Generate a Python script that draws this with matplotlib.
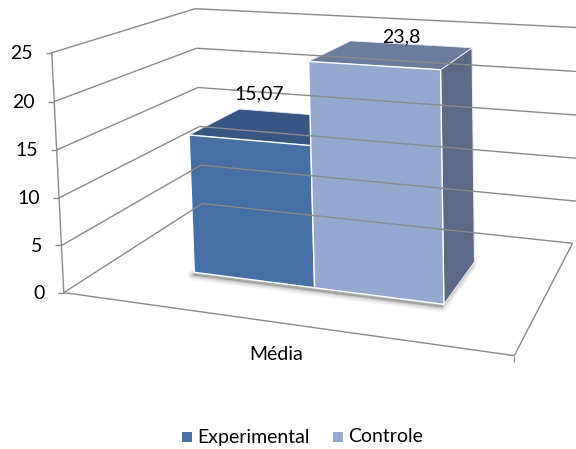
import numpy as np
import matplotlib
matplotlib.use('Agg')
import matplotlib.pyplot as plt
from matplotlib.patches import Polygon, Rectangle

plt.rcParams['font.family'] = ['Lato', 'DejaVu Sans']

# data
series = ['Experimental', 'Controle']
values = [15.07, 23.8]
value_labels = ['15,07', '23,8']
category = 'Média'
yticks = [0, 5, 10, 15, 20, 25]
zmax = 25

front_colors = ['#4470a5', '#94a8d0']
top_colors = ['#365582', '#6b7c9f']
side_colors = ['#2f4a70', '#5c6a86']

# box corners (x, depth, value) -> pixel, used to build the perspective camera
anchors = [
    ((0, 0, 0), (63, 291)),
    ((0, 0, 10), (59, 198)),
    ((0, 0, 25), (52, 54)),
    ((0, 1, 0), (203, 205)),
    ((0, 1, 15), (198, 87)),
    ((0, 1, 25), (195, 8)),
    ((1, 1, 0), (572, 243)),
    ((1, 0, 0), (515, 356)),
]

S = 500.0
rows = []
for (X, Y, Z), (u, v) in anchors:
    Zn = Z / zmax
    u, v = u / S, v / S
    rows.append([X, Y, Zn, 1, 0, 0, 0, 0, -u * X, -u * Y, -u * Zn, -u])
    rows.append([0, 0, 0, 0, X, Y, Zn, 1, -v * X, -v * Y, -v * Zn, -v])
_, _, vt = np.linalg.svd(np.array(rows, float))
P = vt[-1].reshape(3, 4)


def proj(x, y, z):
    p = P @ np.array([x, y, z / zmax, 1.0])
    return p[0] / p[2] * S, p[1] / p[2] * S


# bar layout in box units
bar_x0 = 0.215
bar_w = 0.295
bar_y0 = 0.30
bar_y1 = 0.70

fig = plt.figure(figsize=(5.76, 4.49), dpi=100)
ax = fig.add_axes([0, 0, 1, 1])
ax.set_xlim(0, 576)
ax.set_ylim(449, 0)
ax.axis('off')

grid_kw = dict(color='#8a8a8a', lw=1.0, solid_capstyle='butt')


def seg(a, b, **kw):
    ax.plot([a[0], b[0]], [a[1], b[1]], **kw)


# walls; the back wall runs past the right edge of the image
for z in yticks:
    seg(proj(0, 0, z), proj(0, 1, z), **grid_kw)
    seg(proj(0, 1, z), proj(1 if z == 0 else 1.08, 1, z), **grid_kw)

# value axis with ticks and labels
seg(proj(0, 0, 0), proj(0, 0, zmax), **grid_kw)
for z in yticks:
    u, v = proj(0, 0, z)
    seg((u - 6, v), (u, v), **grid_kw)
    ax.text(u - 19, v + 1, str(z), ha='right', va='center', fontsize=14, color='#000000')

# floor outline
seg(proj(0, 0, 0), proj(1, 0, 0), **grid_kw)
seg(proj(1, 0, 0), proj(1, 1, 0), **grid_kw)
u, v = proj(1, 0, 0)
seg((u, v), (u, v + 6), **grid_kw)

ax.text(276, 354, category, ha='center', va='center', fontsize=14)


def bar_faces(i, h):
    x0 = bar_x0 + i * bar_w
    x1 = x0 + bar_w
    front = [proj(x0, bar_y0, 0), proj(x1, bar_y0, 0), proj(x1, bar_y0, h), proj(x0, bar_y0, h)]
    top = [proj(x0, bar_y0, h), proj(x1, bar_y0, h), proj(x1, bar_y1, h), proj(x0, bar_y1, h)]
    side = [proj(x1, bar_y0, 0), proj(x1, bar_y1, 0), proj(x1, bar_y1, h), proj(x1, bar_y0, h)]
    return front, top, side


# soft shadow under the bars
n = len(values)
x_end = bar_x0 + n * bar_w
foot = [proj(bar_x0, bar_y0, 0), proj(x_end, bar_y0, 0), proj(x_end, bar_y1, 0),
        proj(bar_x0, bar_y1, 0)]
foot = [(a - 2, b + 3) for a, b in foot]
for lw, al in [(7, 0.05), (5, 0.07), (3, 0.09), (1.5, 0.12)]:
    ax.add_patch(Polygon(foot, closed=True, fc='none', ec='#404040', lw=lw, alpha=al,
                         joinstyle='round'))
ax.add_patch(Polygon(foot, closed=True, fc='#404040', ec='none', alpha=0.3))

# bars
for i, h in enumerate(values):
    front, top, side = bar_faces(i, h)
    ax.add_patch(Polygon(side, closed=True, fc=side_colors[i], ec='#e8ecf4', lw=0.8))
    ax.add_patch(Polygon(top, closed=True, fc=top_colors[i], ec='#e8ecf4', lw=0.6))
    ax.add_patch(Polygon(front, closed=True, fc=front_colors[i], ec='white', lw=1.0))

# value labels
label_offsets = [(-14, -32), (9, -18)]
for i, h in enumerate(values):
    x0 = bar_x0 + i * bar_w
    u, v = proj(x0 + bar_w / 2, (bar_y0 + bar_y1) / 2, h)
    ax.text(u + label_offsets[i][0], v + label_offsets[i][1], value_labels[i],
            ha='center', va='center', fontsize=14)

# legend
lx = [182, 333]
for i, name in enumerate(series):
    ax.add_patch(Rectangle((lx[i], 432), 10, 10, fc=front_colors[i], ec='none'))
    ax.text(lx[i] + 15, 437, name, ha='left', va='center', fontsize=14)

fig.savefig('out.png', dpi=100)
